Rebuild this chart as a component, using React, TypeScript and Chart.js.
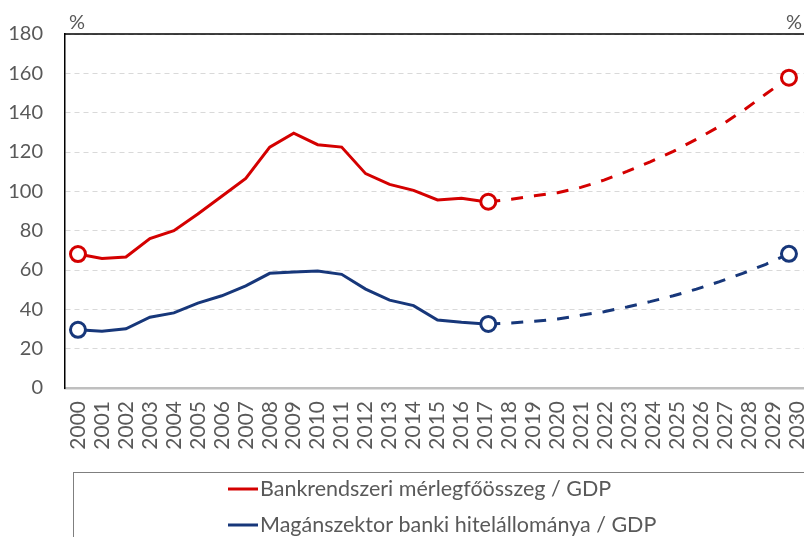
import React, { useEffect, useRef } from 'react';
import { Chart, registerables } from 'chart.js';

Chart.register(...registerables);

// ---- Data ----
const years = [
  '2000', '2001', '2002', '2003', '2004', '2005', '2006', '2007', '2008', '2009',
  '2010', '2011', '2012', '2013', '2014', '2015', '2016', '2017', '2018', '2019',
  '2020', '2021', '2022', '2023', '2024', '2025', '2026', '2027', '2028', '2029', '2030',
];

// Bankrendszeri mérlegfőösszeg / GDP (%) — 2000–2017 actual, 2017–2030 projection
const bankAssetsActual = [
  68.1, 65.9, 66.6, 76.0, 80.0, 88.5, 97.5, 106.6, 122.5, 129.6,
  123.7, 122.5, 109.0, 103.5, 100.5, 95.6, 96.5, 94.7,
];
const bankAssetsForecast = [
  94.7, 96.0, 97.7, 99.3, 102.0, 105.7, 110.1, 115.0, 120.3, 126.5, 133.1, 140.9, 149.5, 157.8,
];

// Magánszektor banki hitelállománya / GDP (%)
const privateCreditActual = [
  29.6, 28.9, 30.1, 36.0, 38.2, 43.2, 46.9, 51.9, 58.3, 59.0,
  59.5, 57.8, 50.3, 44.7, 41.9, 34.6, 33.4, 32.6,
];
const privateCreditForecast = [
  32.6, 33.1, 33.9, 35.1, 37.0, 38.8, 41.2, 43.9, 46.9, 50.3, 54.1, 58.3, 62.9, 68.2,
];

const seriesLabels = [
  'Bankrendszeri mérlegfőösszeg / GDP',
  'Magánszektor banki hitelállománya / GDP',
];
const seriesColors = ['#d40000', '#17377a'];

const forecastStartIndex = 17; // 2017
const yMin = 0;
const yMax = 180;
const yStep = 20;
const unitLabel = '%';

const FONT = 'Lato';
const TEXT_COLOR = '#595959';

const framePlugin = {
  id: 'frameAndLegend',
  afterDraw(chart: any) {
    const { ctx, chartArea } = chart;
    ctx.save();
    // top frame line
    ctx.strokeStyle = '#000000';
    ctx.lineWidth = 1.5;
    ctx.beginPath();
    ctx.moveTo(chartArea.left, chartArea.top);
    ctx.lineTo(chartArea.right, chartArea.top);
    ctx.stroke();

    // unit labels
    ctx.fillStyle = TEXT_COLOR;
    ctx.font = `20px ${FONT}`;
    ctx.textAlign = 'center';
    ctx.textBaseline = 'middle';
    ctx.fillText(unitLabel, chartArea.left + 12, chartArea.top - 11);
    ctx.fillText(unitLabel, chartArea.right - 10, chartArea.top - 11);

    // legend box
    ctx.strokeStyle = '#7f7f7f';
    ctx.lineWidth = 1;
    ctx.strokeRect(73.5, 472.5, 780, 120);

    const rows = [489, 525];
    seriesLabels.forEach((label, i) => {
      const y = rows[i];
      ctx.strokeStyle = seriesColors[i];
      ctx.lineWidth = 3;
      ctx.beginPath();
      ctx.moveTo(228, y);
      ctx.lineTo(258, y);
      ctx.stroke();
      ctx.fillStyle = TEXT_COLOR;
      ctx.font = `21.5px ${FONT}`;
      ctx.textAlign = 'left';
      ctx.textBaseline = 'middle';
      ctx.fillText(label, 260, y);
    });
    ctx.restore();
  },
};

function lineDataset(
  label: string,
  values: number[],
  startIndex: number,
  color: string,
  xAxisID: string,
  dashed: boolean,
  markers: number[],
) {
  return {
    label,
    xAxisID,
    data: values.map((v, i) => ({ x: startIndex + i, y: v })),
    borderColor: color,
    backgroundColor: color,
    borderWidth: 3,
    borderDash: dashed ? [12, 11] : [],
    tension: 0,
    pointRadius: (c: any) => (markers.includes(c.dataIndex) ? 7.5 : 0),
    pointHoverRadius: (c: any) => (markers.includes(c.dataIndex) ? 7.5 : 0),
    pointBorderWidth: 3,
    pointBackgroundColor: '#ffffff',
    pointBorderColor: color,
  };
}

export default function App() {
  const canvasRef = useRef<HTMLCanvasElement | null>(null);

  useEffect(() => {
    if (!canvasRef.current) return;
    const chart = new Chart(canvasRef.current, {
      type: 'line',
      data: {
        datasets: [
          lineDataset(seriesLabels[0], bankAssetsForecast, forecastStartIndex, seriesColors[0], 'xf', true, [0, bankAssetsForecast.length - 1]),
          lineDataset(seriesLabels[0], bankAssetsActual, 0, seriesColors[0], 'x', false, [0]),
          lineDataset(seriesLabels[1], privateCreditForecast, forecastStartIndex, seriesColors[1], 'xf', true, [0, privateCreditForecast.length - 1]),
          lineDataset(seriesLabels[1], privateCreditActual, 0, seriesColors[1], 'x', false, [0]),
        ],
      },
      options: {
        responsive: false,
        animation: false,
        devicePixelRatio: 1,
        layout: { autoPadding: false, padding: { top: 31, bottom: 79, left: 0, right: 0 } },
        plugins: {
          legend: { display: false },
          tooltip: { enabled: false },
        },
        scales: {
          x: {
            type: 'linear',
            min: -0.542,
            max: 30.29,
            grid: { display: false, drawTicks: false },
            border: { color: '#bfbfbf', width: 2.5 },
            ticks: {
              stepSize: 1,
              autoSkip: false,
              includeBounds: false,
              maxRotation: 90,
              minRotation: 90,
              padding: 13,
              color: TEXT_COLOR,
              font: { family: FONT, size: 21 },
              callback: (v: any) => {
                const i = Math.round(Number(v));
                return Math.abs(i - Number(v)) < 1e-6 && years[i] ? years[i] : '';
              },
            },
            afterFit: (s: any) => {
              s.height = 70;
              s.paddingLeft = 0;
              s.paddingRight = 0;
            },
          },
          xf: {
            type: 'linear',
            display: false,
            position: 'bottom',
            min: -1.3,
            max: 30.65,
          },
          y: {
            min: yMin,
            max: yMax,
            grid: { color: '#d9d9d9', lineWidth: 1, drawTicks: false },
            border: { color: '#000000', width: 1.5, dash: [5, 4] },
            ticks: {
              stepSize: yStep,
              padding: 22,
              color: TEXT_COLOR,
              font: { family: FONT, size: 20 },
            },
            afterFit: (s: any) => {
              s.width = 65;
            },
          },
        },
      },
      plugins: [framePlugin],
    });
    return () => chart.destroy();
  }, []);

  return (
    <div style={{ position: 'fixed', left: 0, top: 0, width: 804, height: 537, background: '#fff' }}>
      <canvas ref={canvasRef} width={804} height={537} />
    </div>
  );
}
